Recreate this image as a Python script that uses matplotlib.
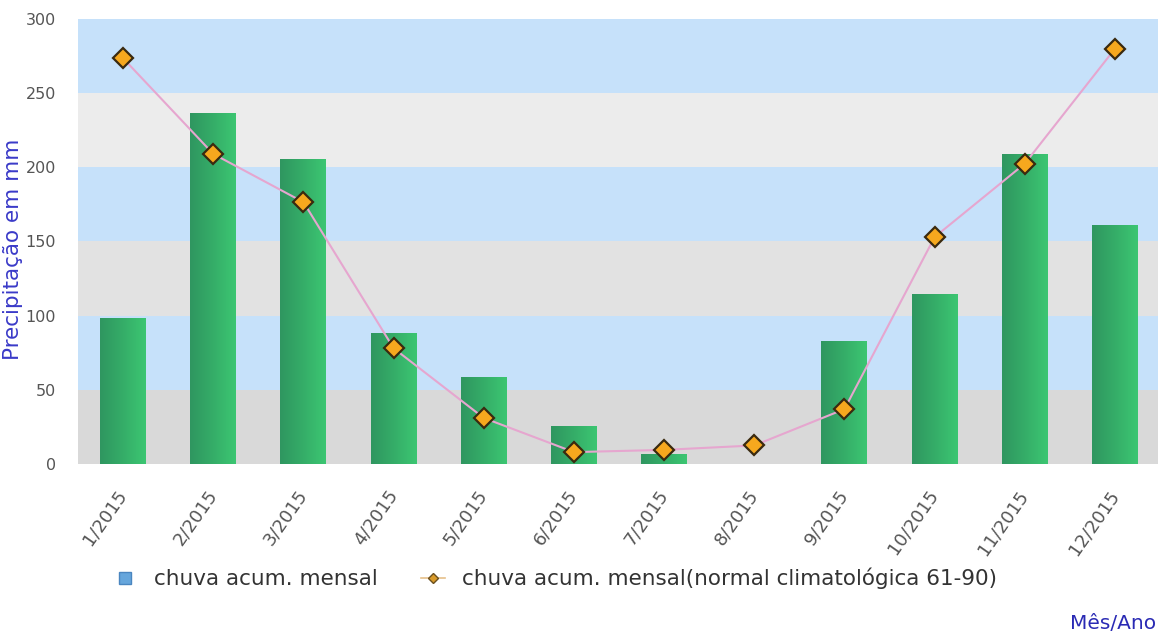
import numpy as np
import matplotlib
matplotlib.use("Agg")
import matplotlib.pyplot as plt
from matplotlib.lines import Line2D
from matplotlib.colors import LinearSegmentedColormap

months = ["1/2015", "2/2015", "3/2015", "4/2015", "5/2015", "6/2015",
          "7/2015", "8/2015", "9/2015", "10/2015", "11/2015", "12/2015"]
chuva = [98.4, 236.5, 205.5, 88.3, 58.5, 25.5, 6.7, 0.0, 83.0, 114.5, 209.0, 161.0]
normal = [273.5, 209.0, 176.5, 78.0, 31.0, 8.0, 9.5, 12.5, 37.0, 153.0, 202.5, 280.0]
yticks = [0, 50, 100, 150, 200, 250, 300]

fig = plt.figure(figsize=(11.58, 6.39), dpi=100)
ax = fig.add_axes([0.0674, 0.2739, 0.9344, 0.6964])

x = np.arange(len(months))

# background bands
band_cols = ["#d9d9d9", "#c6e1fa", "#e2e2e2", "#c6e1fa", "#ececec", "#c6e1fa"]
for i in range(6):
    ax.axhspan(yticks[i], yticks[i + 1], color=band_cols[i], zorder=0, lw=0)

# bars with horizontal green gradient
bars = ax.bar(x, chuva, width=0.51, color="#34a865", zorder=2, lw=0)
cmap = LinearSegmentedColormap.from_list("g", ["#2f9660", "#35ad68", "#3cc672"])
grad = np.linspace(0, 1, 64).reshape(1, -1)
for b in bars:
    if b.get_height() <= 0:
        continue
    x0, y0 = b.get_x(), b.get_y()
    im = ax.imshow(grad, cmap=cmap, aspect="auto", zorder=3,
                   extent=[x0, x0 + b.get_width(), y0, y0 + b.get_height()],
                   interpolation="bilinear")
    im.set_clip_path(b)
ax.set_xlim(-0.5, len(months) - 0.5)
ax.set_ylim(0, 300)

# normal line
ax.plot(x, normal, color="#e6a6cf", lw=1.5, zorder=4)
ax.plot(x, normal, ls="none", marker="D", markersize=10.5,
        markerfacecolor="#f6a81e", markeredgecolor="#3a2a10",
        markeredgewidth=1.6, zorder=5)

for s in ax.spines.values():
    s.set_visible(False)
ax.tick_params(length=0, colors="#555555")
ax.set_yticks(yticks)
ax.set_yticklabels([str(v) for v in yticks], fontsize=11.5, color="#555555")
ax.tick_params(axis="y", pad=16)
ax.set_xticks(x)
ax.set_xticklabels(months, rotation=55, ha="right", va="center",
                   rotation_mode="anchor", fontsize=13, color="#555555")
ax.tick_params(axis="x", pad=20)

fig.text(0.0115, 0.61, "Precipitação em mm", rotation=90, color="#3a3ac8",
         fontsize=15.5, ha="center", va="center")
fig.text(0.998, 0.01, "Mês/Ano", color="#2a2ab4", fontsize=14.5,
         ha="right", va="bottom")

handles = [
    Line2D([], [], ls="none", marker="s", markersize=9,
           markerfacecolor="#66a6dc", markeredgecolor="#4a86c0"),
    Line2D([], [], color="#e6c08a", lw=1.2, marker="D", markersize=5,
           markerfacecolor="#d99a2a", markeredgecolor="#6a5020"),
]
labels = ["chuva acum. mensal", "chuva acum. mensal(normal climatológica 61-90)"]
fig.legend(handles, labels, loc="center left", bbox_to_anchor=(0.098, 0.095),
           ncol=2, frameon=False, fontsize=15.5, handlelength=1.1,
           columnspacing=2.0, handletextpad=0.8, labelcolor="#333333",
           borderpad=0, borderaxespad=0)

fig.savefig("out.png", dpi=100)
